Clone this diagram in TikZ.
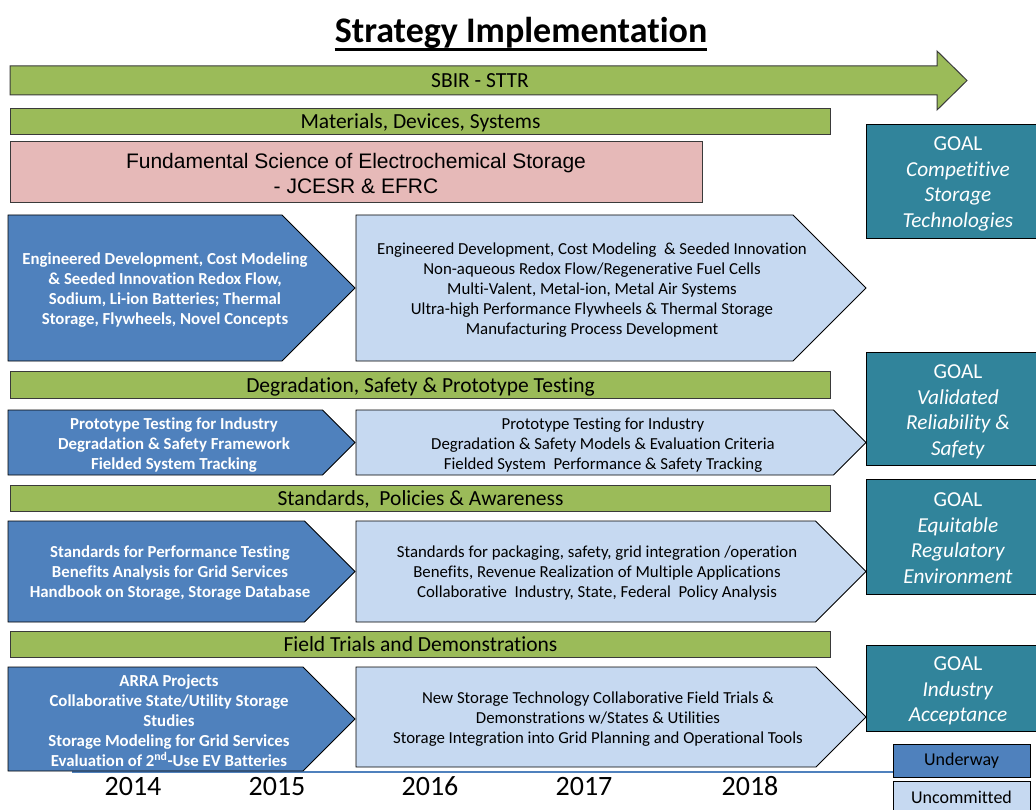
\documentclass[tikz,border=0pt]{standalone}
\usepackage{fontspec}
\setmainfont{Carlito}[Ligatures=NoCommon]
\newfontfamily\arialfont{Liberation Sans}
\definecolor{barGreen}{HTML}{9BBB59}
\definecolor{sciPink}{HTML}{E6B9B8}
\definecolor{darkBlue}{HTML}{4F81BD}
\definecolor{lightBlue}{HTML}{C6D9F1}
\definecolor{goalTeal}{HTML}{31849B}
\definecolor{lineGray}{HTML}{3A3A3A}
\newcommand\barstrut{\rule[-5pt]{0pt}{24pt}}
\begin{document}
\begin{tikzpicture}[x=1pt,y=-1pt,
  strutted/.style={execute at begin node=\strut, execute at end node=\strut},
  barbox/.style={fill=barGreen, draw=lineGray, line width=1pt, anchor=north west, inner sep=0pt,
    font=\fontsize{21.5}{24}\selectfont, execute at begin node=\barstrut},
  darkshape/.style={fill=darkBlue, draw=black, line width=0.8pt},
  lightshape/.style={fill=lightBlue, draw=black, line width=0.8pt},
  darktext/.style={text=white, align=center, inner sep=0pt, font=\fontsize{16.8}{20}\selectfont\bfseries, strutted},
  lighttext/.style={text=black, align=center, inner sep=0pt, font=\fontsize{16.8}{20}\selectfont, strutted},
  goalbox/.style={fill=goalTeal, draw=black, line width=1.2pt, anchor=north west, minimum width=184pt, inner sep=0pt},
  goaltext/.style={text=white, align=center, inner sep=0pt, font=\fontsize{21.3}{25.7}\selectfont, strutted},
  yearlabel/.style={font=\fontsize{28}{32}\selectfont, anchor=base, inner sep=0pt},
  legendbox/.style={draw=black, line width=1pt, minimum width=137pt, minimum height=33pt, inner sep=0pt,
    font=\fontsize{18}{20}\selectfont}
]
\useasboundingbox (0,0) rectangle (1036,810);

% title
\node[font=\fontsize{36}{42}\selectfont\bfseries, anchor=base, inner sep=0pt] (title) at (521,43) {Strategy Implementation};
\draw[line width=3pt] ([yshift=-6.5pt]title.base west) -- ([yshift=-6.5pt]title.base east);

% SBIR arrow
\draw[fill=barGreen, draw=lineGray, line width=1pt] (10,66) -- (937,66) -- (937,51) -- (967,80.5) -- (937,110) -- (937,95) -- (10,95) -- cycle;
\node[font=\fontsize{21.5}{24}\selectfont, inner sep=0pt, strutted] (sbir) at (480,83) {SBIR - STTR};

% bars
\node[barbox, minimum width=820pt, minimum height=26pt] (mat) at (10,108) {Materials, Devices, Systems};
\node[barbox, minimum width=820pt, minimum height=27pt] (deg) at (10,371) {Degradation, Safety \& Prototype Testing};
\node[barbox, minimum width=820pt, minimum height=26pt] (std) at (10,485) {Standards,\ \ Policies \& Awareness};
\node[barbox, minimum width=820pt, minimum height=26pt] (fld) at (10,631) {Field Trials and Demonstrations};

% fundamental science
\draw[fill=sciPink, draw=lineGray, line width=1pt] (10,142) rectangle (702,203);
\node[inner sep=0pt, align=center, font=\arialfont\fontsize{21}{25}\selectfont, strutted] (sci) at (356,177)
  {Fundamental Science of Electrochemical Storage\\- JCESR \& EFRC};

% goals
\node[goalbox, minimum height=114pt] (g1) at (866,124) {};
\node[goaltext] (g1t) at (958,186) {GOAL\\\textit{Competitive}\\\textit{Storage}\\\textit{Technologies}};
\node[goalbox, minimum height=113pt] (g2) at (866,352) {};
\node[goaltext] (g2t) at (958,414) {GOAL\\\textit{Validated}\\\textit{Reliability \&}\\\textit{Safety}};
\node[goalbox, minimum height=115pt] (g3) at (866,479) {};
\node[goaltext] (g3t) at (958,542) {GOAL\\\textit{Equitable}\\\textit{Regulatory}\\\textit{Environment}};
\node[goalbox, minimum height=86pt] (g4) at (866,645) {};
\node[goaltext] (g4t) at (958,693) {GOAL\\\textit{Industry}\\\textit{Acceptance}};

% timeline line
\draw[darkBlue, line width=2.5pt] (72,772) -- (893,772);

% row 1
\draw[darkshape] (8,215) -- (282,215) -- (355,288) -- (282,361) -- (8,361) -- cycle;
\draw[lightshape] (356,215) -- (793,215) -- (866,288) -- (793,361) -- (356,361) -- cycle;
\node[darktext] (d1) at (165,292) {Engineered Development, Cost Modeling\\\& Seeded Innovation Redox Flow,\\Sodium, Li-ion Batteries; Thermal\\Storage, Flywheels, Novel Concepts};
\node[lighttext] (l1) at (592,292) {Engineered Development, Cost Modeling\ \ \& Seeded Innovation\\Non-aqueous Redox Flow/Regenerative Fuel Cells\\Multi-Valent, Metal-ion, Metal Air Systems\\Ultra-high Performance Flywheels \& Thermal Storage\\Manufacturing Process Development};

% row 2
\draw[darkshape] (8,410) -- (322.5,410) -- (355,442.5) -- (322.5,475) -- (8,475) -- cycle;
\draw[lightshape] (356,410) -- (833.5,410) -- (866,442.5) -- (833.5,475) -- (356,475) -- cycle;
\node[darktext] (d2) at (174,447) {Prototype Testing for Industry\\Degradation \& Safety Framework\\Fielded System Tracking};
\node[lighttext] (l2) at (603,447) {Prototype Testing for Industry\\Degradation \& Safety Models \& Evaluation Criteria\\Fielded System\ \ Performance \& Safety Tracking};

% row 3
\draw[darkshape] (8,521) -- (304.5,521) -- (355,571.5) -- (304.5,622) -- (8,622) -- cycle;
\draw[lightshape] (356,521) -- (815.5,521) -- (866,571.5) -- (815.5,622) -- (356,622) -- cycle;
\node[darktext] (d3) at (170,575) {Standards for Performance Testing\\Benefits Analysis for Grid Services\\Handbook on Storage, Storage Database};
\node[lighttext] (l3) at (597,575) {Standards for packaging, safety, grid integration /operation\\Benefits, Revenue Realization of Multiple Applications\\Collaborative\ \ Industry, State, Federal\ \ Policy Analysis};

% row 4
\draw[darkshape] (8,667) -- (303,667) -- (355,719) -- (303,771) -- (8,771) -- cycle;
\draw[lightshape] (356,667) -- (816,667) -- (866,717) -- (816,767) -- (356,767) -- cycle;
\node[darktext] (d4) at (169,724) {ARRA Projects\\Collaborative State/Utility Storage\\Studies\\Storage Modeling for Grid Services\\Evaluation of 2\textsuperscript{nd}-Use EV Batteries};
\node[lighttext] (l4) at (598,721) {New Storage Technology Collaborative Field Trials \&\\Demonstrations w/States \& Utilities\\Storage Integration into Grid Planning and Operational Tools};

% years
\node[yearlabel] (y14) at (133,795) {2014};
\node[yearlabel] (y15) at (277,795) {2015};
\node[yearlabel] (y16) at (430,795) {2016};
\node[yearlabel] (y17) at (584,795) {2017};
\node[yearlabel] (y18) at (750,795) {2018};

% legend
\node[legendbox, fill=darkBlue] (lgU) at (961.5,760.5) {Underway};
\node[legendbox, fill=lightBlue] (lgC) at (961.5,797.5) {Uncommitted};
\end{tikzpicture}
\end{document}
